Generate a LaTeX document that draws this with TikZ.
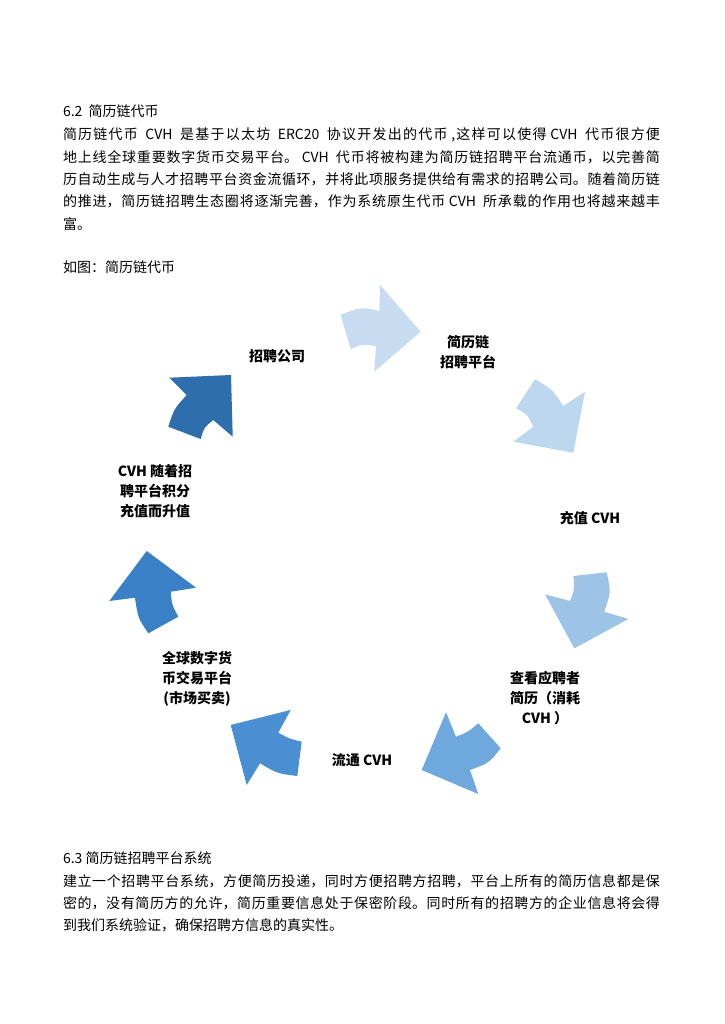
\documentclass[tikz,border=0pt]{standalone}
\usepackage{fontspec}
\setmainfont{Noto Sans CJK SC}
\XeTeXlinebreaklocale "zh"
\XeTeXlinebreakskip=0pt plus 3pt
\definecolor{arrowa}{HTML}{C7DCF0}
\definecolor{arrowb}{HTML}{BDD7EE}
\definecolor{arrowc}{HTML}{9DC3E6}
\definecolor{arrowd}{HTML}{6FA8DC}
\definecolor{arrowe}{HTML}{4A8FD2}
\definecolor{arrowf}{HTML}{3A80C6}
\definecolor{arrowg}{HTML}{2E6EAD}
\begin{document}
\begin{tikzpicture}[x=1pt, y=-1pt,
    bodyline/.style={anchor=base west, inner sep=0, outer sep=0, font=\fontsize{14}{22.3}\selectfont},
    bodypara/.style={bodyline, text width=597pt, align=justify},
    steplabel/.style={align=center, inner sep=0, outer sep=0, font=\fontsize{14}{20}\selectfont\bfseries}]
        \fill[white] (0,0) rectangle (724,1024);
        \useasboundingbox (0,0) rectangle (724,1024);

        % section 6.2
        \node[bodyline] (head62) at (63,117) {6.2\ \ 简历链代币};
        \node[bodypara] (paraone) at (63,140) {简历链代币\ \ CVH\ \ 是基于以太坊\ \ ERC20\ \ 协议开发出的代币 ,这样可以使得 CVH\ \ 代币很方便\linebreak
          地上线全球重要数字货币交易平台。 CVH\ \ 代币将被构建为简历链招聘平台流通币，以完善简\linebreak
          历自动生成与人才招聘平台资金流循环，并将此项服务提供给有需求的招聘公司。随着简历链\linebreak
          的推进，简历链招聘生态圈将逐渐完善，作为系统原生代币 CVH\ \ 所承载的作用也将越来越丰\linebreak
          富。};
        \node[bodyline] (figtitle) at (63,272) {如图：简历链代币};

        % cycle arrows
        \fill[arrowa] (340.7,315) .. controls (360,307) .. (379.3,310.7) -- (380,285) -- (420.7,331.7) -- (374.3,371.7) -- (376,346) .. controls (363,344) .. (350.7,349) -- cycle;
        \fill[arrowb] (535,379.3) .. controls (552,389) .. (563.3,406) -- (585,391.7) -- (573.3,452.7) -- (513.3,441.7) -- (533.3,426.7) .. controls (527,414) .. (516,408.3) -- cycle;
        \fill[arrowc] (606.7,572.3) .. controls (611,592) .. (604.3,611.7) -- (628.3,619) -- (574.3,648.3) -- (545,594.3) -- (570,601) .. controls (575,588) .. (573.3,576) -- cycle;
        \fill[arrowd] (478.3,723.3) -- (500.7,748.3) .. controls (489,763) .. (470,770) -- (478.3,794) -- (421.7,770) -- (446,712.3) -- (456,736.7) .. controls (468,732) .. (478.3,723.3) -- cycle;
        \fill[arrowe] (290.7,710) -- (278.3,732.7) .. controls (290,739) .. (301.7,741.7) -- (297.3,776) .. controls (277.3,773.5) .. (260,763.3) -- (246.7,785) -- (230.7,725) -- cycle;
        \fill[arrowf] (146.7,551) -- (196,587.7) -- (170.7,591.7) .. controls (172,605) .. (178.3,616.7) -- (148.3,633.3) .. controls (138,618) .. (135,597.7) -- (109.3,601) -- cycle;
        \fill[arrowg] (231,375) -- (232.7,436.7) -- (213.3,420) .. controls (204,427.5) .. (200.7,439) -- (168.3,426.7) .. controls (174,409) .. (186.7,395) -- (169.3,377.7) -- cycle;

        % cycle labels
        \node[steplabel] (company) at (277,356) {招聘公司};
        \node[steplabel] (platform) at (468,352) {简历链\\招聘平台};
        \node[steplabel] (recharge) at (590,518) {充值 CVH};
        \node[steplabel] (viewcv) at (545,698) {查看应聘者\\简历（消耗\\CVH ）};
        \node[steplabel] (circulate) at (362,760) {流通 CVH};
        \node[steplabel] (exchange) at (197,679) {全球数字货\\币交易平台\\(市场买卖)};
        \node[steplabel] (rise) at (155,491) {CVH 随着招\\聘平台积分\\充值而升值};

        % section 6.3
        \node[bodyline] (head63) at (63,863) {6.3 简历链招聘平台系统};
        \node[bodypara] (paratwo) at (63,886) {建立一个招聘平台系统，方便简历投递，同时方便招聘方招聘，平台上所有的简历信息都是保\linebreak
          密的，没有简历方的允许，简历重要信息处于保密阶段。同时所有的招聘方的企业信息将会得\linebreak
          到我们系统验证，确保招聘方信息的真实性。};
      \end{tikzpicture}
\end{document}
